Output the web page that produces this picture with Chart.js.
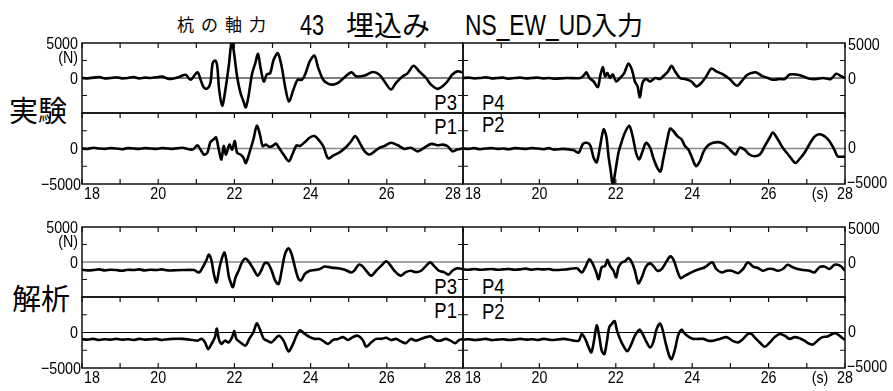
<!DOCTYPE html>
<html>
<head>
<meta charset="utf-8">
<script src="https://cdn.jsdelivr.net/npm/chart.js@4.4.1/dist/chart.umd.min.js"></script>
<style>
  body { margin: 0; background: #fff; }
  #wrap { position: relative; width: 893px; height: 391px; overflow: hidden; background: #fff; }
  #wrap canvas { position: absolute; left: 0; top: 0; }
  .t { position: absolute; white-space: nowrap; line-height: 1; color: #000; }
  .jp { font-family: "Noto Sans CJK JP", sans-serif; }
  .nr { font-family: "Liberation Sans", Arial, sans-serif; transform-origin: left center; }
  .nr.r { transform-origin: right center; }
</style>
</head>
<body>
<div id="wrap">
  <div class="t jp" style="left:177px;top:15px;font-size:17px;letter-spacing:7px;">杭の軸力</div>
  <div class="t nr" style="left:300px;top:10px;font-size:30px;transform:scaleX(0.72);">43</div>
  <div class="t jp" style="left:346px;top:10px;font-size:28px;">埋込み</div>
  <div class="t nr" style="left:465px;top:10px;font-size:30px;transform:scaleX(0.76);">NS_EW_UD</div>
  <div class="t jp" style="left:591px;top:11px;font-size:26px;">入力</div>

  <div class="t jp" style="left:9px;top:95px;font-size:29px;">実験</div>
  <div class="t jp" style="left:12px;top:283px;font-size:29px;">解析</div>

  <div class="t nr r" style="right:436px;top:92px;font-size:22px;transform:scaleX(0.84);">P3</div>
  <div class="t nr r" style="right:436px;top:116px;font-size:22px;transform:scaleX(0.84);">P1</div>
  <div class="t nr" style="left:482px;top:92px;font-size:22px;transform:scaleX(0.84);">P4</div>
  <div class="t nr" style="left:482px;top:114px;font-size:22px;transform:scaleX(0.84);">P2</div>
  <div class="t nr r" style="right:436px;top:276px;font-size:22px;transform:scaleX(0.84);">P3</div>
  <div class="t nr r" style="right:436px;top:300px;font-size:22px;transform:scaleX(0.84);">P1</div>
  <div class="t nr" style="left:482px;top:276px;font-size:22px;transform:scaleX(0.84);">P4</div>
  <div class="t nr" style="left:482px;top:301px;font-size:22px;transform:scaleX(0.84);">P2</div>
</div>
<script>
// 時間軸 (s) と目盛り
var xMin = 18, xMax = 28;
var xTickLabels = [18, 20, 22, 24, 26, 28];
var yMin = -5000, yMax = 5000;

// 実験 P3
var expP3T = [18.0,18.15,18.3,18.45,18.6,18.75,18.9,19.05,19.2,19.35,19.5,19.65,19.8,19.95,20.1,20.25,
  20.37,20.55,20.72,20.85,21.03,21.11,21.2,21.29,21.37,21.43,21.5,21.55,21.6,21.68,21.75,21.85,21.93,21.98,22.07,22.16,
  22.24,22.3,22.37,22.46,22.55,22.62,22.68,22.77,22.85,22.94,23.03,23.14,23.24,23.33,23.43,23.55,23.66,23.77,23.87,23.98,
  24.1,24.2,24.33,24.46,24.59,24.72,24.9,25.07,25.2,25.42,25.63,25.8,25.94,26.11,26.24,26.42,26.55,26.7,26.85,27.03,
  27.16,27.33,27.46,27.59,27.72,27.85,28.0];
var expP3V = [0,-50,50,150,-50,0,100,-50,0,150,-50,50,0,100,200,-100,
  -100,150,450,-250,800,-200,-1400,-1500,-700,2150,2500,1650,-1650,-3950,-2150,1650,5300,4000,250,-2150,
  -3350,-4200,-2600,500,2150,3450,1650,-500,500,700,2600,3550,1650,-1200,-3350,-1650,-250,-250,700,2400,
  3200,1450,-250,-800,-950,-700,150,800,250,350,850,500,-500,-1650,-700,250,700,1750,950,0,
  -950,-1550,-1200,-500,500,950,800];

// 実験 P1
var expP1T = [18.0,18.15,18.3,18.45,18.6,18.75,18.9,19.05,19.2,19.35,19.5,19.65,19.8,19.95,20.1,20.25,
  20.37,20.63,20.9,21.03,21.11,21.2,21.29,21.37,21.46,21.52,21.59,21.66,21.72,21.78,21.87,21.94,22.01,22.07,22.16,22.24,
  22.3,22.42,22.5,22.59,22.68,22.74,22.83,22.91,23.0,23.09,23.17,23.29,23.43,23.52,23.63,23.72,23.85,23.98,24.1,24.2,
  24.33,24.46,24.59,24.77,24.94,25.07,25.17,25.29,25.42,25.55,25.68,25.81,25.94,26.11,26.29,26.46,26.63,26.81,26.98,27.17,
  27.33,27.46,27.59,27.72,27.85,28.0];
var expP1V = [0,-50,100,0,-50,50,0,-100,50,0,-50,50,0,-50,50,0,
  -50,100,-150,450,-150,-850,-600,900,1300,1550,-150,-1550,350,-850,550,-150,1050,-600,-850,-1300,
  -2050,-150,1300,3200,1750,350,550,250,350,700,100,-850,-1800,-850,450,350,900,1550,1750,1300,
  350,-1400,-1000,-500,250,1050,1750,800,-400,-850,-400,100,350,800,450,-50,100,-400,100,650,
  450,550,350,-400,-150,0];

// 実験 P4
var expP4T = [18.0,18.15,18.3,18.45,18.6,18.75,18.9,19.05,19.2,19.35,19.5,19.65,19.8,19.95,20.1,20.25,
  20.37,20.72,21.07,21.16,21.23,21.31,21.42,21.53,21.59,21.66,21.72,21.78,21.85,21.92,22.01,22.11,22.22,22.33,22.42,22.5,
  22.57,22.63,22.7,22.79,22.9,23.03,23.16,23.24,23.37,23.46,23.55,23.68,23.81,23.98,24.11,24.24,24.37,24.5,24.63,24.81,
  24.98,25.17,25.29,25.42,25.55,25.68,25.81,25.98,26.11,26.29,26.42,26.55,26.72,26.9,27.07,27.24,27.42,27.63,27.77,27.9,
  28.0];
var expP4V = [0,50,-50,0,100,-50,0,50,-100,0,50,-50,0,50,-50,0,
  -100,0,0,350,800,0,-500,-1300,250,1550,250,700,0,500,-500,0,700,2050,1200,-500,
  -1200,-2750,-700,-150,-500,0,-150,250,950,1750,950,0,-150,-500,-1200,-700,250,1350,950,500,
  -150,-1100,-500,350,700,800,350,0,-250,-150,-150,500,500,250,-100,-150,0,-150,600,250,
  0];

// 実験 P2
var expP2T = [18.0,18.15,18.3,18.45,18.6,18.75,18.9,19.05,19.2,19.35,19.5,19.65,19.8,19.95,20.1,20.25,
  20.37,20.63,20.9,21.03,21.14,21.24,21.33,21.42,21.5,21.59,21.68,21.75,21.81,21.87,21.92,21.98,22.07,22.16,22.24,22.35,
  22.44,22.53,22.61,22.7,22.79,22.9,22.98,23.09,23.17,23.24,23.33,23.42,23.5,23.61,23.72,23.81,23.9,23.98,24.1,24.2,
  24.3,24.42,24.55,24.68,24.81,24.94,25.07,25.14,25.24,25.37,25.5,25.63,25.77,25.9,26.03,26.11,26.24,26.37,26.55,26.7,
  26.8,26.94,27.07,27.2,27.33,27.46,27.59,27.72,27.81,28.0];
var expP2V = [0,-50,50,-100,0,50,-50,0,-100,50,0,-50,50,0,-100,50,
  -150,-50,-250,-600,650,800,450,-1300,-1950,350,2700,1750,-1100,-3250,-5200,-3500,-600,1050,2250,3200,
  1750,-600,-1550,-400,800,100,-1300,-2750,-3250,-1550,800,2800,2500,1750,1300,350,-150,-1100,-2500,-1800,
  -400,450,800,900,700,100,-600,-850,100,-150,-850,-1100,-850,350,1550,2250,1300,100,-1100,-2050,
  -1550,-600,600,1650,2000,1750,1050,-150,-1100,-1150];

// 解析 P3
var anaP3T = [18.0,18.15,18.3,18.45,18.6,18.75,18.9,19.05,19.2,19.35,19.5,19.65,19.8,19.95,20.1,20.25,
  20.37,20.63,20.94,21.07,21.17,21.26,21.33,21.4,21.46,21.53,21.61,21.68,21.74,21.79,21.85,21.9,21.96,22.03,22.11,22.2,
  22.29,22.39,22.5,22.61,22.7,22.79,22.88,22.98,23.07,23.16,23.24,23.33,23.42,23.5,23.59,23.68,23.75,23.85,23.98,24.11,
  24.24,24.37,24.55,24.72,24.9,25.07,25.16,25.26,25.35,25.46,25.59,25.72,25.85,25.98,26.07,26.2,26.36,26.5,26.63,26.76,
  26.9,27.03,27.14,27.24,27.37,27.5,27.62,27.72,27.85,28.0];
var anaP3V = [-1100,-1200,-1150,-1050,-1200,-1100,-1150,-1250,-1100,-1150,-1050,-1200,-1100,-1150,-1050,-1200,
  -1200,-1150,-1150,-1500,-750,200,1050,200,-1700,-2900,-750,650,1350,200,-1950,-2900,-3600,-2200,-1250,-50,
  500,-50,-1000,-1950,-1250,-200,-200,-1250,-2650,-3150,-1250,1150,1950,1150,-750,-2400,-2650,-1700,-1250,-1150,
  -1000,-650,-800,-900,-1100,-1500,-1150,-400,-550,-1250,-1950,-1250,-550,100,-300,-1250,-1950,-1450,-1250,-1450,
  -1250,-550,-50,-550,-1250,-1450,-1800,-1250,-900,-1000];

// 解析 P1
var anaP1T = [18.0,18.15,18.3,18.45,18.6,18.75,18.9,19.05,19.2,19.35,19.5,19.65,19.8,19.95,20.1,20.25,
  20.37,20.63,20.9,21.03,21.14,21.23,21.31,21.4,21.49,21.54,21.59,21.66,21.75,21.85,21.94,22.0,22.05,22.16,22.29,22.39,
  22.5,22.59,22.68,22.77,22.86,22.97,23.07,23.17,23.29,23.42,23.52,23.63,23.72,23.85,23.98,24.11,24.24,24.37,24.46,24.59,
  24.72,24.85,24.98,25.11,25.24,25.37,25.46,25.59,25.72,25.85,25.98,26.11,26.24,26.37,26.5,26.63,26.76,26.9,27.03,27.16,
  27.28,27.41,27.54,27.67,27.8,27.9,28.0];
var anaP1V = [-950,-1000,-900,-1050,-950,-1000,-900,-1000,-950,-1050,-900,-1000,-950,-900,-1050,-950,
  -900,-900,-1050,-1150,-900,-1400,-2350,-1600,-650,550,-900,-1600,-1150,-1400,-650,200,-900,-1400,-1850,-900,
  50,1300,300,-900,-1150,-1400,-900,-450,-1150,-2650,-1850,-450,300,-200,-650,-900,-900,-1350,-1600,-1050,
  -900,-650,-1050,-650,-450,-1050,-2000,-1400,-900,-900,-750,-1050,-900,-1250,-1500,-900,-1150,-900,-650,-550,
  -1050,-1150,-900,-1150,-1500,-1050,-900];

// 解析 P4
var anaP4T = [18.0,18.15,18.3,18.45,18.6,18.75,18.9,19.05,19.2,19.35,19.5,19.65,19.8,19.95,20.1,20.25,
  20.37,20.72,20.98,21.11,21.2,21.31,21.4,21.49,21.55,21.63,21.72,21.78,21.85,21.94,22.01,22.07,22.16,22.24,22.33,22.42,
  22.5,22.59,22.68,22.79,22.9,22.98,23.09,23.2,23.33,23.43,23.52,23.61,23.7,23.81,23.94,24.07,24.2,24.33,24.46,24.53,
  24.63,24.77,24.9,25.03,25.2,25.33,25.46,25.59,25.72,25.85,25.98,26.11,26.24,26.37,26.5,26.63,26.76,26.9,27.07,27.2,
  27.33,27.46,27.59,27.72,27.81,27.9,28.0];
var anaP4V = [-1050,-1100,-1000,-1100,-1050,-1000,-1100,-1050,-1000,-1100,-1050,-950,-1100,-1000,-1050,-1000,
  -1150,-1050,-900,-1500,-750,400,-300,-1500,-2450,-750,-550,300,-550,-1250,-2200,-750,-50,100,550,-50,
  -1250,-3050,-2200,-650,-200,-550,-1250,-1000,100,800,200,-1250,-2300,-1950,-1600,-1250,-1000,-750,-200,-50,
  -1000,-1500,-1250,-1250,-1600,-1000,-50,-650,-850,-1250,-1000,-1000,-1250,-1000,-400,-750,-1000,-1150,-1250,-1500,
  -750,-650,-1000,-400,-400,-650,-1250];

// 解析 P2
var anaP2T = [18.0,18.15,18.3,18.45,18.6,18.75,18.9,19.05,19.2,19.35,19.5,19.65,19.8,19.95,20.1,20.25,
  20.37,20.63,20.9,21.03,21.11,21.2,21.29,21.36,21.43,21.5,21.57,21.63,21.7,21.77,21.83,21.9,21.97,22.03,22.11,22.22,
  22.3,22.39,22.5,22.62,22.7,22.81,22.9,22.98,23.07,23.16,23.23,23.31,23.4,23.46,23.55,23.63,23.72,23.81,23.92,24.03,
  24.16,24.29,24.42,24.55,24.72,24.9,25.05,25.2,25.33,25.46,25.55,25.63,25.77,25.9,26.03,26.16,26.29,26.42,26.55,26.68,
  26.81,26.94,27.03,27.16,27.28,27.41,27.54,27.67,27.76,27.9,28.0];
var anaP2V = [-1000,-950,-1050,-1000,-900,-1050,-1000,-950,-1050,-1000,-900,-1000,-950,-1050,-900,-1000,
  -1050,-900,-1150,-1150,-200,-900,-2100,-2800,-1150,1000,-650,-2550,-3050,-1150,750,1250,1600,300,-900,-2100,
  -2650,-1850,-450,400,-200,-1400,-2100,-1400,500,1250,300,-1600,-3300,-3750,-2350,-450,400,-200,-650,-900,
  -900,-900,-1150,-1150,-900,-650,-1150,-1400,-900,-200,-200,-650,-1400,-2000,-1400,-650,-200,-450,-900,-650,
  -800,-1150,-1500,-1700,-1150,-650,-550,-200,-100,-650,-1050];

// パネル配置
var cols = [{ x0: 82, x1: 463 }, { x0: 463, x1: 845 }];
var groups = [{ top: 43, mid: 113, bot: 184 }, { top: 227, mid: 297, bot: 368 }];

var panels = [
  { g: 0, c: 0, row: 0, t: expP3T, v: expP3V, zero: '#000', zw: 1.2 },
  { g: 0, c: 0, row: 1, t: expP1T, v: expP1V, zero: '#888', zw: 1.6 },
  { g: 0, c: 1, row: 0, t: expP4T, v: expP4V, zero: '#000', zw: 1.2 },
  { g: 0, c: 1, row: 1, t: expP2T, v: expP2V, zero: '#888', zw: 1.6 },
  { g: 1, c: 0, row: 0, t: anaP3T, v: anaP3V, zero: '#888', zw: 1.6 },
  { g: 1, c: 0, row: 1, t: anaP1T, v: anaP1V, zero: '#000', zw: 1.2 },
  { g: 1, c: 1, row: 0, t: anaP4T, v: anaP4V, zero: '#888', zw: 1.6 },
  { g: 1, c: 1, row: 1, t: anaP2T, v: anaP2V, zero: '#000', zw: 1.2 }
];

var W = 893, H = 391;
var numFont = '17px "Liberation Sans", Arial, sans-serif';
var narrow = 0.84;

// 細身の数字ラベル
function label(ctx, text, x, y, align) {
  ctx.save();
  ctx.translate(x, y);
  ctx.scale(narrow, 1);
  ctx.textAlign = align;
  ctx.fillText(text, 0, 0);
  ctx.restore();
}

function panelPlugin(p) {
  return {
    id: 'panelDeco',
    beforeDatasetsDraw: function(chart) {
      var ctx = chart.ctx, a = chart.chartArea, y = chart.scales.y;
      var zy = y.getPixelForValue(0);
      ctx.save();
      ctx.strokeStyle = p.zero;
      ctx.lineWidth = p.zw;
      ctx.beginPath();
      ctx.moveTo(a.left, zy);
      ctx.lineTo(a.right, zy);
      ctx.stroke();
      ctx.restore();
    },
    afterDatasetsDraw: function(chart) {
      var ctx = chart.ctx, a = chart.chartArea, x = chart.scales.x, y = chart.scales.y;
      ctx.save();
      // 枠
      ctx.strokeStyle = '#111';
      ctx.lineWidth = 1.5;
      ctx.strokeRect(a.left, a.top, a.right - a.left, a.bottom - a.top);
      // 内向き目盛り
      ctx.lineWidth = 1.2;
      ctx.beginPath();
      for (var t = xMin; t <= xMax; t++) {
        var px = x.getPixelForValue(t);
        ctx.moveTo(px, a.top); ctx.lineTo(px, a.top + 5);
        if (p.row === 1) { ctx.moveTo(px, a.bottom); ctx.lineTo(px, a.bottom - 5); }
      }
      [2500, -2500].forEach(function(val) {
        var py = y.getPixelForValue(val);
        ctx.moveTo(a.left, py); ctx.lineTo(a.left + 5, py);
        ctx.moveTo(a.right, py); ctx.lineTo(a.right - 5, py);
      });
      ctx.stroke();

      // 目盛りラベル
      ctx.fillStyle = '#000';
      ctx.font = numFont;
      ctx.textBaseline = 'middle';
      var zy = y.getPixelForValue(0);
      if (p.c === 0) {
        var lx = a.left - 4;
        if (p.row === 0) {
          label(ctx, '5000', lx, y.getPixelForValue(yMax) + 1, 'right');
          label(ctx, '(N)', lx, y.getPixelForValue(yMax) + 15, 'right');
          label(ctx, '0', lx, zy + 1, 'right');
        } else {
          label(ctx, '0', lx, zy + 1, 'right');
          label(ctx, '\u22125000', a.left - 1, y.getPixelForValue(yMin) + 1, 'right');
        }
      } else {
        var rx = a.right + 3;
        if (p.row === 0) {
          label(ctx, '5000', rx, y.getPixelForValue(yMax) + 2, 'left');
          label(ctx, '0', rx, zy + 1, 'left');
        } else {
          label(ctx, '0', rx, zy, 'left');
          label(ctx, '\u22125000', rx - 1, y.getPixelForValue(yMin) - 1, 'left');
        }
      }
      if (p.row === 1) {
        var ly = a.bottom + 10;
        xTickLabels.forEach(function(t) {
          var px = x.getPixelForValue(t);
          if (t === xMin) {
            label(ctx, String(t), px + 2, ly, 'left');
          } else if (t === xMax && p.c === 0) {
            label(ctx, String(t), px - 2, ly, 'right');
          } else {
            label(ctx, String(t), px, ly, 'center');
          }
        });
        if (p.c === 1) {
          label(ctx, '(s)', x.getPixelForValue(xMax) - 25, ly, 'center');
        }
      }
      ctx.restore();
    }
  };
}

var wrap = document.getElementById('wrap');

panels.forEach(function(p) {
  var col = cols[p.c], grp = groups[p.g];
  var top = p.row === 0 ? grp.top : grp.mid;
  var bot = p.row === 0 ? grp.mid : grp.bot;

  var cv = document.createElement('canvas');
  cv.width = W; cv.height = H;
  cv.style.width = W + 'px'; cv.style.height = H + 'px';
  wrap.appendChild(cv);

  var pts = [];
  var n = Math.min(p.t.length, p.v.length);
  for (var i = 0; i < n; i++) pts.push({ x: p.t[i], y: p.v[i] });

  new Chart(cv.getContext('2d'), {
    type: 'line',
    data: {
      datasets: [{
        data: pts,
        borderColor: '#000',
        borderWidth: 2.6,
        pointRadius: 0,
        tension: 0.3,
        fill: false,
        clip: 0
      }]
    },
    options: {
      responsive: false,
      animation: false,
      devicePixelRatio: 1,
      events: [],
      layout: { padding: { left: col.x0, right: W - col.x1, top: top, bottom: H - bot } },
      scales: {
        x: { type: 'linear', min: xMin, max: xMax, display: false },
        y: { type: 'linear', min: yMin, max: yMax, display: false }
      },
      plugins: { legend: { display: false }, tooltip: { enabled: false } }
    },
    plugins: [panelPlugin(p)]
  });
});
</script>
</body>
</html>
